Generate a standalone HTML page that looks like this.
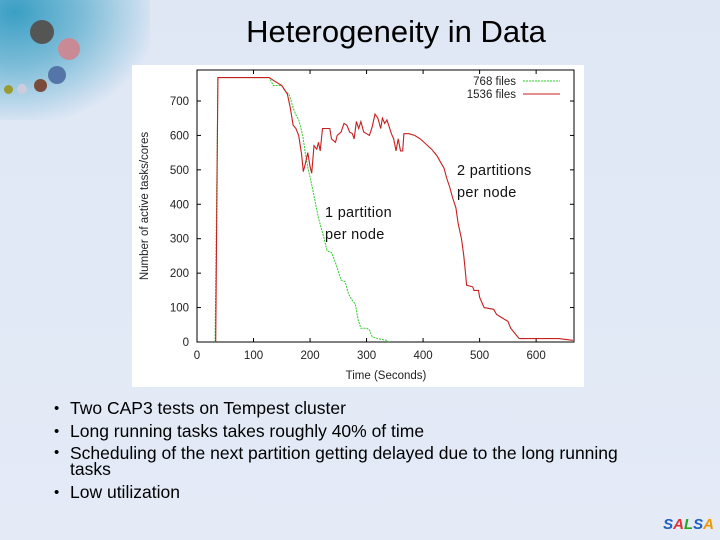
<!DOCTYPE html>
<html><head><meta charset="utf-8"><style>
body{margin:0;width:720px;height:540px;overflow:hidden;background:linear-gradient(180deg,#dfe7f5 0%,#e4ebf7 100%);font-family:"Liberation Sans",sans-serif;position:relative}
#logo{position:absolute;left:0;top:0;width:150px;height:120px;background:radial-gradient(ellipse at 10% 10%,#3a9fc4 0%,#7cbcd8 35%,rgba(220,231,245,0) 75%)}
.ball{position:absolute;border-radius:50%}
h1{position:absolute;left:236px;width:320px;top:14px;margin:0;text-align:center;font-weight:normal;font-size:31px;color:#000;white-space:nowrap}
#chart{position:absolute;left:132px;top:65px;width:452px;height:322px;background:#fff}
ul{position:absolute;left:58px;top:398px;margin:0;padding:0;list-style:none;font-size:17.5px;line-height:21px;width:600px}
li{position:relative;padding-left:12px}
li:before{content:"•";position:absolute;left:-4px;font-size:15px}
li+li{margin-top:1.5px}
#salsa{position:absolute;right:6px;bottom:7px;font-weight:bold;font-style:italic;font-size:15px}
</style></head><body>
<div id="logo">
<div class="ball" style="left:30px;top:20px;width:24px;height:24px;background:#555"></div>
<div class="ball" style="left:58px;top:38px;width:22px;height:22px;background:#c98a95"></div>
<div class="ball" style="left:48px;top:66px;width:18px;height:18px;background:#5575a8"></div>
<div class="ball" style="left:34px;top:79px;width:13px;height:13px;background:#7a4a3a"></div>
<div class="ball" style="left:17px;top:84px;width:10px;height:10px;background:#ccd"></div>
<div class="ball" style="left:4px;top:85px;width:9px;height:9px;background:#9a9a30"></div>
</div>
<h1>Heterogeneity in Data</h1>
<div id="chart">
<svg id="svg" width="452" height="322" xmlns="http://www.w3.org/2000/svg" font-family="Liberation Sans,sans-serif"></svg>
</div>
<ul>
<li>Two CAP3 tests on Tempest cluster</li>
<li>Long running tasks takes roughly 40% of time</li>
<li style="line-height:16px;padding-top:2px">Scheduling of the next partition getting delayed due to the long running tasks</li>
<li style="margin-top:5px">Low utilization</li>
</ul>
<div id="salsa"><span style="color:#1f5fbf">S</span><span style="color:#d33">A</span><span style="color:#2a2">L</span><span style="color:#1f5fbf">S</span><span style="color:#e90">A</span></div>
<script>
const xTicks=[0,100,200,300,400,500,600];
const yTicks=[0,100,200,300,400,500,600,700];
const greenX=[32,37,128,135,150,155,163,170,175,180,187,192,197,200,205,210,215,220,225,230,238,245,250,255,262,268,275,280,285,290,300,305,310,320,335,340];
const greenY=[0,768,768,745,745,730,720,680,660,645,600,545,500,480,440,400,360,330,300,265,260,230,205,180,175,140,120,110,65,40,40,35,15,10,5,0];
const redX=[33,37,128,135,150,160,165,170,175,180,185,188,192,196,200,203,207,212,215,218,222,230,235,238,245,248,255,260,265,270,275,278,282,286,290,295,300,305,310,315,320,325,328,332,336,340,344,348,352,356,360,364,366,375,385,395,405,415,425,430,437,442,447,452,458,462,468,472,475,477,488,490,498,500,508,525,530,545,550,555,565,570,640,665];
const redY=[0,768,768,760,745,720,680,630,620,600,545,495,520,550,510,490,570,560,580,555,620,620,620,590,580,600,610,635,630,610,605,590,640,620,640,610,605,600,625,662,650,620,650,635,645,625,605,590,555,590,555,555,605,605,600,590,575,560,540,525,505,475,450,420,390,345,300,250,200,165,160,150,150,130,100,95,80,65,60,40,20,10,10,5];
const L=65,R=442,T=5,B=277;
const sx=v=>L+v*(R-L)/667, sy=v=>B-v*(B-T)/790;
const svg=document.getElementById('svg');const NS='http://www.w3.org/2000/svg';
function mk(t,a,txt){const e=document.createElementNS(NS,t);for(const k in a)e.setAttribute(k,a[k]);if(txt!==undefined)e.textContent=txt;svg.appendChild(e);return e;}
let e=mk('rect',{x:L,y:T,width:R-L,height:B-T,fill:'none',stroke:'#000','stroke-width':1});


xTicks.forEach(v=>{const x=sx(v);mk('line',{x1:x,x2:x,y1:B,y2:B-4,stroke:'#000'});mk('line',{x1:x,x2:x,y1:T,y2:T+4,stroke:'#000'});
const t=mk('text',{x:x,y:B+17,'text-anchor':'middle','font-size':11.5,fill:'#222'},v);

});
yTicks.forEach(v=>{const y=sy(v);mk('line',{x1:L,x2:L+4,y1:y,y2:y,stroke:'#000'});mk('line',{x1:R,x2:R-4,y1:y,y2:y,stroke:'#000'});
const t=mk('text',{x:L-8,y:y+4,'text-anchor':'end','font-size':11.5,fill:'#222'},v);

});
e=mk('text',{x:254,y:314,'text-anchor':'middle','font-size':11.5,fill:'#222'},'Time (Seconds)');


e=mk('text',{x:0,y:0,transform:'translate(16,141) rotate(-90)','text-anchor':'middle','font-size':11.5,fill:'#222'},'Number of active tasks/cores');


function pts(X,Y){return X.map((x,i)=>sx(x).toFixed(1)+','+sy(Y[i]).toFixed(1)).join(' ');}
e=mk('polyline',{points:pts(greenX,greenY),fill:'none',stroke:'#2ecc2e','stroke-width':1,'stroke-dasharray':'2,1'});


e=mk('polyline',{points:pts(redX,redY),fill:'none',stroke:'#c81e1e','stroke-width':1.1});


e=mk('text',{x:384,y:20,'text-anchor':'end','font-size':11.5,fill:'#222'},'768 files');


mk('line',{x1:391,x2:428,y1:16,y2:16,stroke:'#2ecc2e','stroke-dasharray':'2,1'});
e=mk('text',{x:384,y:33,'text-anchor':'end','font-size':11.5,fill:'#222'},'1536 files');


mk('line',{x1:391,x2:428,y1:29,y2:29,stroke:'#c81e1e'});
[['1 partition',193,152],['per node',193,174],['2 partitions',325,110],['per node',325,132]].forEach(a=>{
const t=mk('text',{x:a[1],y:a[2],'font-size':14.5,fill:'#111','letter-spacing':'0.3'},a[0]);

});
</script>
</body></html>
